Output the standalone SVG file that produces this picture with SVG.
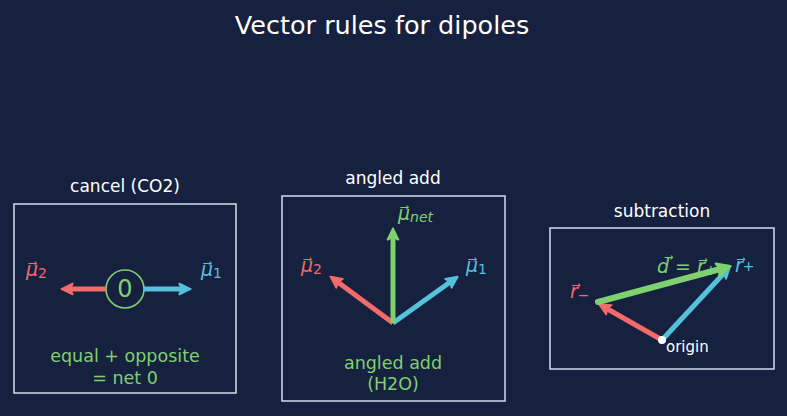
<svg xmlns="http://www.w3.org/2000/svg" width="787" height="416" viewBox="0 0 787 416">
<defs>
<style>
text{font-family:"DejaVu Sans","Liberation Sans",sans-serif}
.panel{fill:#16213f;stroke:#c9d3e3;stroke-width:1.6}
.cap{fill:#ffffff;font-size:17px;text-anchor:middle}
.red{stroke:#f26a6a}
.cyan{stroke:#55c2dc}
.green{stroke:#7fd06f}
.vec{stroke-width:5;stroke-linecap:butt;fill:none}
.lr{fill:#f26a6a;font-size:19px;font-style:italic}
.lc{fill:#55c2dc;font-size:19px;font-style:italic}
.lg{fill:#7fd06f;font-size:19px;font-style:italic}
.note{fill:#7fd06f;font-size:17.5px;text-anchor:middle}
.sub{font-size:14px;font-style:normal}
.subi{font-size:14px;font-style:italic}
</style>
<marker id="ar" viewBox="0 0 10 10" refX="5" refY="5" markerWidth="2.7" markerHeight="2.7" orient="auto" markerUnits="strokeWidth"><path d="M0.8,1 L9.2,5 L0.8,9 L2.6,5 z" fill="#f26a6a" stroke="#f26a6a" stroke-width="1.4" stroke-linejoin="round"/></marker>
<marker id="ac" viewBox="0 0 10 10" refX="5" refY="5" markerWidth="2.7" markerHeight="2.7" orient="auto" markerUnits="strokeWidth"><path d="M0.8,1 L9.2,5 L0.8,9 L2.6,5 z" fill="#55c2dc" stroke="#55c2dc" stroke-width="1.4" stroke-linejoin="round"/></marker>
<marker id="ag" viewBox="0 0 10 10" refX="5" refY="5" markerWidth="2.7" markerHeight="2.7" orient="auto" markerUnits="strokeWidth"><path d="M0.8,1 L9.2,5 L0.8,9 L2.6,5 z" fill="#7fd06f" stroke="#7fd06f" stroke-width="1.4" stroke-linejoin="round"/></marker>
</defs>
<rect width="787" height="416" fill="#16213f"/>
<text x="382" y="34" fill="#ffffff" font-size="25.5" text-anchor="middle">Vector rules for dipoles</text>

<g id="panel-cancel">
<text class="cap" x="125" y="192">cancel (CO2)</text>
<rect class="panel" x="14" y="204" width="222" height="189"/>
<circle cx="125" cy="289" r="19" fill="none" stroke="#7fd06f" stroke-width="1.6"/>
<text x="125" y="297" fill="#7fd06f" font-size="24" text-anchor="middle">0</text>
<text class="lr" x="26" y="276">μ⃗<tspan class="sub" dy="2">2</tspan></text>
<text class="lc" x="201" y="276">μ⃗<tspan class="sub" dy="2">1</tspan></text>
<text class="note" x="125" y="362">equal + opposite</text>
<text class="note" x="125" y="384">= net 0</text>
</g>

<g id="panel-angled">
<text class="cap" x="393" y="184">angled add</text>
<rect class="panel" x="282" y="196" width="223" height="205"/>
<text class="lg" x="398" y="220">μ⃗<tspan class="subi" dy="2">net</tspan></text>
<text class="lr" x="301" y="272">μ⃗<tspan class="sub" dy="2">2</tspan></text>
<text class="lc" x="466" y="272">μ⃗<tspan class="sub" dy="2">1</tspan></text>
<text class="note" x="393" y="369">angled add</text>
<text class="note" x="393" y="390">(H2O)</text>
</g>

<g id="panel-subtraction">
<text class="cap" x="662" y="217">subtraction</text>
<rect class="panel" x="550" y="228" width="224" height="141"/>
<text class="lr" x="570" y="298">r⃗<tspan class="sub" dy="2">−</tspan></text>
<text class="lg" x="657" y="273">d⃗ = r⃗<tspan class="sub" dy="2">+</tspan></text>
<text class="lc" x="735" y="272">r⃗<tspan class="sub" dy="-1">+</tspan></text>
<text x="666" y="352" fill="#ffffff" font-size="15">origin</text>
</g>

<g id="connectors">
<line class="vec red" x1="106" y1="289" x2="67" y2="289" marker-end="url(#ar)"/>
<line class="vec cyan" x1="144" y1="289" x2="185" y2="289" marker-end="url(#ac)"/>
<line class="vec red" x1="393" y1="323" x2="335" y2="280" marker-end="url(#ar)"/>
<line class="vec cyan" x1="393" y1="323" x2="453" y2="280" marker-end="url(#ac)"/>
<line class="vec green" x1="393" y1="323" x2="393" y2="234" marker-end="url(#ag)"/>
<line class="vec red" x1="662" y1="340" x2="604" y2="307" marker-end="url(#ar)"/>
<line class="vec cyan" x1="662" y1="340" x2="726" y2="271" marker-end="url(#ac)"/>
<line class="green" stroke-width="6" stroke-linecap="round" x1="598" y1="302" x2="724" y2="268" marker-end="url(#ag)"/>
<circle cx="662" cy="340" r="4" fill="#ffffff"/>
</g>
</svg>
